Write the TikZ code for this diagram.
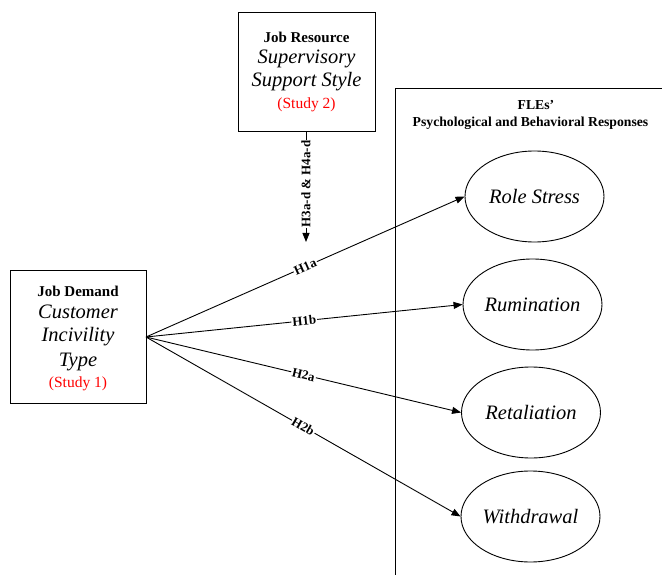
\documentclass[tikz,border=0pt]{standalone}
\usepackage{fontspec}
\setmainfont{Liberation Serif}[ItalicFont={Liberation Serif Italic},BoldFont={Liberation Serif Bold}]
\usetikzlibrary{arrows.meta,shapes.geometric}
\newcommand{\fsz}[1]{\fontsize{#1}{#1}\selectfont}
\begin{document}
\begin{tikzpicture}[x=1pt,y=-1pt,
  every path/.style={line width=0.9pt},
  box/.style={draw, line width=0.9pt, minimum width=#1, inner sep=0pt},
  oval/.style={draw, ellipse, line width=0.9pt, minimum width=139pt, minimum height=91pt, inner sep=0pt, font=\fsz{20.5}\itshape},
  bhead/.style={font=\fsz{15}\bfseries, inner sep=0pt},
  ital/.style={font=\fsz{20.5}\itshape, inner sep=0pt},
  study/.style={font=\fsz{15.5}, text=red, inner sep=0pt},
  hlab/.style={font=\fsz{13}\bfseries, fill=white, inner sep=1pt},
  arr/.style={-{Triangle[length=9pt,width=7pt]}, line width=0.9pt}]
\useasboundingbox (0,0) rectangle (662,575);
% top box
\node[box=137pt, minimum height=119pt] (res) at (306.5,71.5) {};
\node[bhead] (resA) at (306.5,37) {Job Resource};
\node[ital] (resB) at (306.5,59) {Supervisory};
\node[ital] (resC) at (306.5,82) {Support Style};
\node[study] (resD) at (306.5,105) {(Study 2)};
% left box
\node[box=136pt, minimum height=133pt] (dem) at (78,336.5) {};
\node[bhead] (demA) at (78,291) {Job Demand};
\node[ital] (demB) at (78,312) {Customer};
\node[ital] (demC) at (78,337) {Incivility};
\node[ital] (demD) at (78,362) {Type};
\node[study] (demE) at (78,384) {(Study 1)};
% right frame
\coordinate (fb) at (395,575);
\coordinate (ftl) at (395,88);
\coordinate (ftr) at (662,88);
\draw (fb) -- (ftl) -- (ftr);
\node[font=\fsz{13.7}\bfseries, inner sep=0pt] (flA) at (536,105) {FLEs’};
\node[font=\fsz{13.7}\bfseries, inner sep=0pt] (flB) at (530.5,123) {Psychological and Behavioral Responses};
% outcomes
\node[oval] (e1) at (534.5,196.5) {Role Stress};
\node[oval] (e2) at (532.5,304.5) {Rumination};
\node[oval] (e3) at (531,412.5) {Retaliation};
\node[oval] (e4) at (530.5,516.5) {Withdrawal};
% connectors
\coordinate (src) at (146,337);
\coordinate (tip) at (306,242);
\draw[arr] (res.south -| tip) -- (tip);
\node[hlab, rotate=90] (h34) at (306,184) {H3a-d \& H4a-d};
\draw[arr] (src) -- node[hlab, sloped] {H1a} (e1.west);
\draw[arr] (src) -- node[hlab, sloped] {H1b} (e2.west);
\draw[arr] (src) -- node[hlab, sloped] {H2a} (e3.west);
\draw[arr] (src) -- node[hlab, sloped] {H2b} (e4.west);
\end{tikzpicture}
\end{document}
